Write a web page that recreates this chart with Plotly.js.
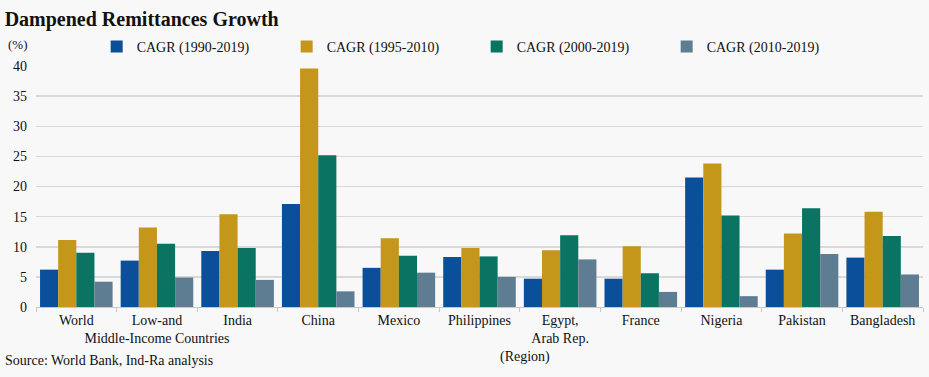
<!DOCTYPE html>
<html><head><meta charset="utf-8">
<script src="https://cdn.plot.ly/plotly-3.0.1.min.js"></script>
<style>body{margin:0;padding:0;background:#f8f8f8}#c{width:929px;height:377px}</style>
</head><body><div id="c"></div>
<script>
const categories = ["World","Low-and<br>Middle-Income Countries","India","China","Mexico","Philippines","Egypt,<br>Arab Rep.","France","Nigeria","Pakistan","Bangladesh"];
const seriesNames = ["CAGR (1990-2019)","CAGR (1995-2010)","CAGR (2000-2019)","CAGR (2010-2019)"];
const cagr1990_2019 = [6.2, 7.7, 9.3, 17.1, 6.5, 8.3, 4.7, 4.7, 21.5, 6.2, 8.2];
const cagr1995_2010 = [11.1, 13.2, 15.4, 39.6, 11.4, 9.8, 9.4, 10.1, 23.8, 12.2, 15.8];
const cagr2000_2019 = [9.0, 10.5, 9.8, 25.2, 8.5, 8.4, 11.9, 5.6, 15.2, 16.4, 11.8];
const cagr2010_2019 = [4.2, 4.9, 4.5, 2.6, 5.7, 5.0, 7.9, 2.5, 1.8, 8.8, 5.4];
const yTicks = [0,5,10,15,20,25,30,35,40];

const colors = ["#0b4f9a","#c4961a","#0b7361","#5f7d92"];
const values = [cagr1990_2019, cagr1995_2010, cagr2000_2019, cagr2010_2019];
const font = "'Liberation Serif', serif";
const legendIds = ["legend","legend2","legend3","legend4"];

const data = values.map((v,i)=>({
  type:"bar", x:categories, y:v, name:seriesNames[i], legend:legendIds[i],
  marker:{color:colors[i], line:{width:0}}, hoverinfo:"none"
}));

const layout = {
  width:929, height:377,
  paper_bgcolor:"#f8f8f8", plot_bgcolor:"#f8f8f8",
  margin:{l:36, r:6, t:66, b:70},
  font:{family:font, color:"#111", size:14},
  barmode:"group", bargap:0.1, bargroupgap:0,
  showlegend:true,
  xaxis:{type:"category", tickson:"boundaries", ticks:"outside", ticklen:4, tickcolor:"#c8c8c8",
    showline:true, linecolor:"#c8c8c8", linewidth:1, showgrid:false, tickangle:0,
    tickfont:{family:font, size:14, color:"#111"}},
  yaxis:{range:[0,40], tickvals:yTicks, showgrid:true, gridcolor:"#d9d9d9", gridwidth:1.5,
    zeroline:false, showline:false, ticks:"", ticklabelstandoff:8,
    tickfont:{family:font, size:14, color:"#111"}},
  title:{text:"<b>Dampened Remittances Growth</b>", x:0.005, xanchor:"left", y:0.95, yanchor:"middle",
    font:{family:font, size:20, color:"#111"}},
  annotations:[
    {text:"(%)", xref:"paper", yref:"paper", x:-0.034, xanchor:"left", y:1.091, yanchor:"middle",
     showarrow:false, font:{family:font, size:13, color:"#111"}},
    {text:"(Region)", xref:"paper", yref:"paper", x:0.551, xanchor:"center", y:-0.207, yanchor:"middle",
     showarrow:false, font:{family:font, size:14, color:"#111"}},
    {text:"Source: World Bank, Ind-Ra analysis", xref:"paper", yref:"paper", x:-0.037, xanchor:"left",
     y:-0.224, yanchor:"middle", showarrow:false, font:{family:font, size:14, color:"#111"}}
  ]
};
const legX0 = 0.0684, legStep = 0.2142;
legendIds.forEach((id,i)=>{
  layout[id] = {orientation:"h", x:legX0 + i*legStep, xanchor:"left", y:1.079, yanchor:"middle",
    font:{family:font, size:14, color:"#111"}, bgcolor:"rgba(0,0,0,0)", itemwidth:30};
});
Plotly.newPlot("c", data, layout, {displayModeBar:false, staticPlot:true});
</script></body></html>
